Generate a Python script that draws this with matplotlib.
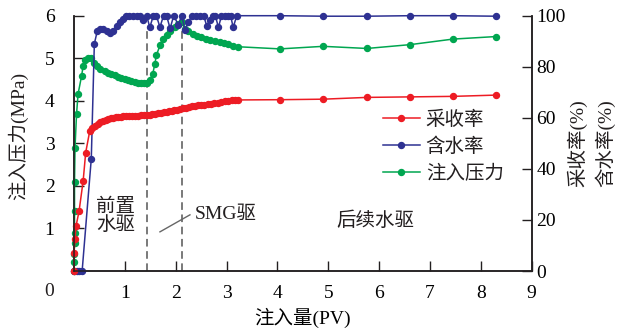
import matplotlib
matplotlib.use('Agg')
import matplotlib.pyplot as plt
from matplotlib.lines import Line2D

plt.rcParams['font.family'] = ['Liberation Serif', 'Noto Sans CJK SC']
plt.rcParams['font.size'] = 14
plt.rcParams['text.color'] = '#231f20'
plt.rcParams['axes.unicode_minus'] = False

# 采收率 (%), right axis
rec_x = [0, 0, 0.02, 0.04, 0.10, 0.18, 0.23, 0.31, 0.36, 0.41, 0.47, 0.52, 0.57,
         0.62, 0.67, 0.72, 0.77, 0.82, 0.87, 0.92, 0.97, 1.02, 1.08, 1.14, 1.20,
         1.26, 1.32, 1.38, 1.43, 1.49, 1.54, 1.60, 1.65, 1.71, 1.76, 1.82, 1.87,
         1.92, 1.97, 2.03, 2.08, 2.14, 2.20, 2.26, 2.32, 2.38, 2.44, 2.50, 2.56,
         2.63, 2.70, 2.76, 2.83, 2.90, 2.97, 3.03, 3.10, 3.16, 3.22,
         4.05, 4.90, 5.76, 6.61, 7.45, 8.30]
rec_y = [0, 7.2, 12.5, 17.6, 23.5, 35.3, 46.4, 54.9, 56.0, 56.8, 57.5, 58.2, 58.7,
         59.1, 59.5, 59.8, 60.1, 60.3, 60.4, 60.5, 60.6, 60.6, 60.7, 60.8, 60.8,
         60.9, 61.0, 61.1, 61.2, 61.3, 61.4, 61.6, 61.7, 61.9, 62.1, 62.3, 62.5,
         62.7, 62.9, 63.2, 63.4, 63.7, 64.0, 64.3, 64.5, 64.7, 64.9, 65.1, 65.2,
         65.4, 65.6, 65.8, 65.9, 66.1, 66.4, 66.6, 66.8, 67.0, 67.0,
         67.1, 67.3, 68.0, 68.2, 68.4, 68.9]

# 含水率 (%), right axis
wc_x = [0, 0.05, 0.10, 0.16, 0.34, 0.40, 0.46, 0.51, 0.57, 0.64, 0.70, 0.77,
        0.84, 0.90, 0.97, 1.03, 1.09, 1.16, 1.23, 1.30, 1.36, 1.43, 1.49, 1.56,
        1.62, 1.69, 1.76, 1.82, 1.89, 1.96, 2.05, 2.12, 2.18, 2.25, 2.32, 2.40,
        2.48, 2.55, 2.61, 2.67, 2.73, 2.78, 2.84, 2.90, 2.97, 3.03, 3.08, 3.13,
        3.20, 4.05, 4.90, 5.76, 6.61, 7.45, 8.30]
wc_y = [0, 0, 0, 0, 44.0, 89.0, 94.2, 94.6, 94.9, 94.2, 93.3, 94.2,
        96.0, 97.5, 98.8, 100, 100, 100, 100, 100, 98.5, 100, 95.4, 100,
        100, 95.5, 100, 100, 95.0, 100, 96.5, 100, 94.5, 97.5, 100, 100,
        100, 100, 96.0, 98.5, 100, 100, 95.4, 100, 100, 100, 100, 95.4,
        100, 100, 99.8, 99.8, 100, 100, 99.8]

# 注入压力 (MPa), left axis
p_x = [0, 0, 0, 0.01, 0.01, 0.01, 0.01, 0.02, 0.05, 0.08, 0.15, 0.18, 0.22,
       0.28, 0.34, 0.40, 0.46, 0.52, 0.60, 0.66, 0.72, 0.80, 0.86, 0.92, 1.00,
       1.06, 1.12, 1.19, 1.26, 1.32, 1.38, 1.44, 1.49, 1.55, 1.59, 1.62, 1.69,
       1.75, 1.82, 1.88, 1.98, 2.05, 2.12, 2.18, 2.25, 2.34, 2.42, 2.50, 2.60,
       2.68, 2.77, 2.87, 2.95, 3.03, 3.13, 3.23, 4.05, 4.90, 5.76, 6.61, 7.45, 8.30]
p_y = [0, 0.2, 0.39, 0.65, 0.9, 1.41, 2.08, 2.9, 3.69, 4.16, 4.59, 4.82, 4.95,
       5.0, 5.0, 4.9, 4.82, 4.75, 4.71, 4.66, 4.63, 4.60, 4.56, 4.54, 4.52,
       4.50, 4.47, 4.45, 4.43, 4.42, 4.42, 4.43, 4.48, 4.64, 4.87, 5.07, 5.30,
       5.45, 5.54, 5.63, 5.73, 5.80, 5.86, 5.68, 5.64, 5.58, 5.53, 5.50, 5.46,
       5.43, 5.41, 5.38, 5.35, 5.33, 5.29, 5.27, 5.22, 5.28, 5.23, 5.32, 5.45, 5.51]

red = '#ed1c24'
blue = '#2e3192'
green = '#00a650'
dark = '#231f20'
ms = 4.3

fig = plt.figure(figsize=(6.17, 3.35), dpi=100)
ax = fig.add_axes([74 / 617, 1 - 271 / 335, 457.7 / 617, 255.3 / 335])
ax2 = ax.twinx()

ax.plot(p_x, p_y, color=green, lw=1.1, marker='o', ms=ms, mec=green, zorder=3, clip_on=False)
ax2.plot(wc_x, wc_y, color=blue, lw=1.1, marker='o', ms=ms, mec=blue, clip_on=False)
ax2.plot(rec_x, rec_y, color=red, lw=1.1, marker='o', ms=ms, mec=red, clip_on=False)

ax.set_xlim(0, 9)
ax.set_ylim(0, 6)
ax2.set_ylim(0, 100)

# stage boundaries
for xv in [1.44, 2.13]:
    ax.plot([xv, xv], [0, 5.7], color='#555555', lw=1.1, ls=(0, (5, 3)), zorder=1)
ax.plot([1.69, 2.28], [0.92, 1.32], color='#666666', lw=1.0)

ax.text(2.38, 1.32, 'SMG驱', va='center', ha='left')
ax.text(0.82, 1.28, '前置\n水驱', va='center', ha='center', linespacing=1.0)
ax.text(5.92, 1.18, '后续水驱', va='center', ha='center')

for a in (ax, ax2):
    for s in a.spines.values():
        s.set_color(dark)
        s.set_linewidth(1.1)
    a.spines['top'].set_visible(False)

ax.set_xticks(range(1, 10))
ax.set_yticks(range(1, 7))
ax.tick_params(axis='x', direction='in', length=7, width=1.0, color=dark, pad=10)
ax.tick_params(axis='y', direction='in', length=7, width=1.0, color=dark, pad=14)
ax2.set_yticks(range(0, 101, 20))
ax2.tick_params(axis='y', direction='in', length=7, width=1.0, color=dark, pad=3.5)

fig.text(49 / 617, 1 - 292 / 335, '0', ha='center', va='center')

ax.set_xlabel('注入量(PV)', labelpad=4)
fig.text(18 / 617, 1 - 136 / 335, '注入压力(MPa)', rotation=90, ha='center', va='center')
fig.text(577 / 617, 1 - 143 / 335, '采收率(%)', rotation=90, ha='center', va='center')
fig.text(605 / 617, 1 - 143 / 335, '含水率(%)', rotation=90, ha='center', va='center')

handles = [Line2D([], [], color=c, lw=1.1, marker='o', ms=ms) for c in (red, blue, green)]
ax2.legend(handles, ['采收率', '含水率', '注入压力'], loc='upper left',
           bbox_to_anchor=(0.675, 0.628), frameon=False, borderpad=0, borderaxespad=0,
           handlelength=1.9, handletextpad=0.3, labelspacing=0.45, markerfirst=True)

fig.savefig('out.png', dpi=100)
